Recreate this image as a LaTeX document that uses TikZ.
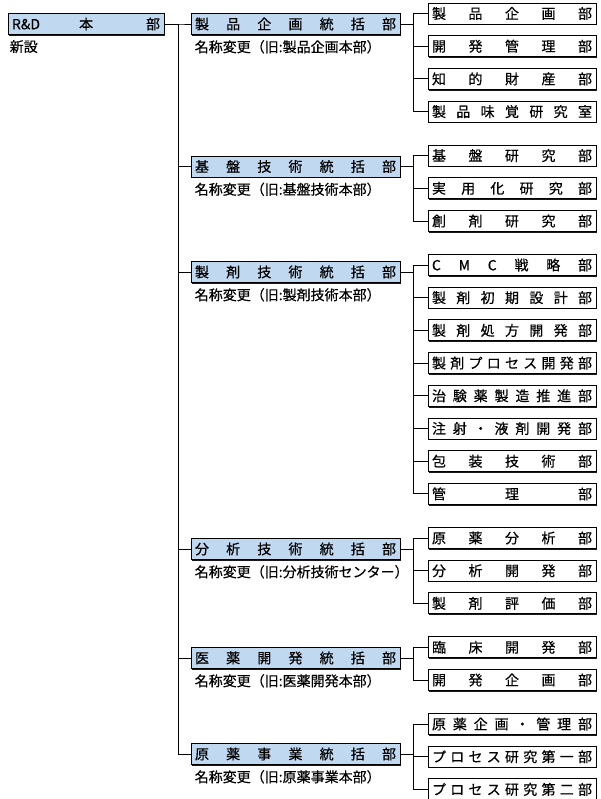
\documentclass[tikz,border=0pt]{standalone}
\usepackage{fontspec}
\setmainfont{Noto Sans CJK JP}[FakeBold=0.5]
\usetikzlibrary{positioning, shadows}
\definecolor{headblue}{RGB}{192,216,240}

% spread the characters of a label over the whole box
\newcommand\sprtext[1]{\hbox to\linewidth{\sprfirst#1\relax}}
\def\sprfirst#1{#1\sprrest}
\def\sprrest#1{\ifx\relax#1\else\hfil#1\expandafter\sprrest\fi}

\begin{document}
\begin{tikzpicture}[
                    x=1pt, y=-1pt,
                    node distance=32.7pt,
                    unitbox/.style={rectangle, draw, line width=0.9pt, inner xsep=4pt, inner ysep=0pt, minimum height=21pt, font=\fontsize{14}{16}\selectfont, drop shadow={shadow xshift=1.2pt, shadow yshift=-1.2pt, fill=black, opacity=0.9}},
                    rootbox/.style={unitbox, fill=headblue, text width=148pt},
                    headbox/.style={unitbox, fill=headblue, text width=201pt},
                    deptbox/.style={unitbox, fill=white, text width=160pt},
                    note/.style={inner sep=0pt, anchor=north west, font=\fontsize{14}{16}\selectfont},
                    link/.style={draw, line width=0.9pt}
                ]
                    \useasboundingbox (0,0) rectangle (600,799);

                    \node [rootbox] (rd) at (86,24) {\hbox to\linewidth{R\&D\hskip 0pt plus 0.85fil 本\hskip 0pt plus 1.15fil 部}};
                    \node [note, below right=5pt and 2pt of rd.south west] (rdnote) {新設};

                    % Divisions
                    \node [headbox] (plan) at (295.5,24) {\sprtext{製品企画統括部}};
                    \node [headbox] (base) at (295.5,166.5) {\sprtext{基盤技術統括部}};
                    \node [headbox] (form) at (295.5,272) {\sprtext{製剤技術統括部}};
                    \node [headbox] (anal) at (295.5,549) {\sprtext{分析技術統括部}};
                    \node [headbox] (clin) at (295.5,658) {\sprtext{医薬開発統括部}};
                    \node [headbox] (api) at (295.5,754) {\sprtext{原薬事業統括部}};

                    \node [note, below right=5pt and 4pt of plan.south west] (plannote) {名称変更（旧:製品企画本部）};
                    \node [note, below right=5pt and 4pt of base.south west] (basenote) {名称変更（旧:基盤技術本部）};
                    \node [note, below right=5pt and 4pt of form.south west] (formnote) {名称変更（旧:製剤技術本部）};
                    \node [note, below right=5pt and 4pt of anal.south west] (analnote) {名称変更（旧:分析技術センター）};
                    \node [note, below right=5pt and 4pt of clin.south west] (clinnote) {名称変更（旧:医薬開発本部）};
                    \node [note, below right=5pt and 4pt of api.south west] (apinote) {名称変更（旧:原薬事業本部）};

                    % Departments
                    \node [deptbox] (plan1) at (512,13.5) {\sprtext{製品企画部}};
                    \node [deptbox, below of=plan1] (plan2) {\sprtext{開発管理部}};
                    \node [deptbox, below of=plan2] (plan3) {\sprtext{知的財産部}};
                    \node [deptbox, below of=plan3] (plan4) {\sprtext{製品味覚研究室}};

                    \node [deptbox] (base1) at (512,155.6) {\sprtext{基盤研究部}};
                    \node [deptbox, below of=base1] (base2) {\sprtext{実用化研究部}};
                    \node [deptbox, below of=base2] (base3) {\sprtext{創剤研究部}};

                    \node [deptbox] (form1) at (512,265) {\sprtext{CMC戦略部}};
                    \node [deptbox, below of=form1] (form2) {\sprtext{製剤初期設計部}};
                    \node [deptbox, below of=form2] (form3) {\sprtext{製剤処方開発部}};
                    \node [deptbox, below of=form3] (form4) {\sprtext{製剤プロセス開発部}};
                    \node [deptbox, below of=form4] (form5) {\sprtext{治験薬製造推進部}};
                    \node [deptbox, below of=form5] (form6) {\sprtext{注射・液剤開発部}};
                    \node [deptbox, below of=form6] (form7) {\sprtext{包装技術部}};
                    \node [deptbox, below of=form7] (form8) {\sprtext{管理部}};

                    \node [deptbox] (anal1) at (512,538) {\sprtext{原薬分析部}};
                    \node [deptbox, below of=anal1] (anal2) {\sprtext{分析開発部}};
                    \node [deptbox, below of=anal2] (anal3) {\sprtext{製剤評価部}};

                    \node [deptbox] (clin1) at (512,647.3) {\sprtext{臨床開発部}};
                    \node [deptbox, below of=clin1] (clin2) {\sprtext{開発企画部}};

                    \node [deptbox] (api1) at (512,724) {\sprtext{原薬企画・管理部}};
                    \node [deptbox, below of=api1] (api2) {\sprtext{プロセス研究第一部}};
                    \node [deptbox, below of=api2] (api3) {\sprtext{プロセス研究第二部}};

                    % Edges from R&D
                    \path [link] (rd.east) -- ++(14,0) |- (plan.west);
                    \path [link] (rd.east) -- ++(14,0) |- (base.west);
                    \path [link] (rd.east) -- ++(14,0) |- (form.west);
                    \path [link] (rd.east) -- ++(14,0) |- (anal.west);
                    \path [link] (rd.east) -- ++(14,0) |- (clin.west);
                    \path [link] (rd.east) -- ++(14,0) |- (api.west);

                    % Edges from divisions
                    \path [link] (plan1.west) -- ++(-14,0) |- (plan.east);
                    \path [link] (plan2.west) -- ++(-14,0) |- (plan.east);
                    \path [link] (plan3.west) -- ++(-14,0) |- (plan.east);
                    \path [link] (plan4.west) -- ++(-14,0) |- (plan.east);

                    \path [link] (base1.west) -- ++(-14,0) |- (base.east);
                    \path [link] (base2.west) -- ++(-14,0) |- (base.east);
                    \path [link] (base3.west) -- ++(-14,0) |- (base.east);

                    \path [link] (form1.west) -- ++(-14,0) |- (form.east);
                    \path [link] (form2.west) -- ++(-14,0) |- (form.east);
                    \path [link] (form3.west) -- ++(-14,0) |- (form.east);
                    \path [link] (form4.west) -- ++(-14,0) |- (form.east);
                    \path [link] (form5.west) -- ++(-14,0) |- (form.east);
                    \path [link] (form6.west) -- ++(-14,0) |- (form.east);
                    \path [link] (form7.west) -- ++(-14,0) |- (form.east);
                    \path [link] (form8.west) -- ++(-14,0) |- (form.east);

                    \path [link] (anal1.west) -- ++(-14,0) |- (anal.east);
                    \path [link] (anal2.west) -- ++(-14,0) |- (anal.east);
                    \path [link] (anal3.west) -- ++(-14,0) |- (anal.east);

                    \path [link] (clin1.west) -- ++(-14,0) |- (clin.east);
                    \path [link] (clin2.west) -- ++(-14,0) |- (clin.east);

                    \path [link] (api1.west) -- ++(-14,0) |- (api.east);
                    \path [link] (api2.west) -- ++(-14,0) |- (api.east);
                    \path [link] (api3.west) -- ++(-14,0) |- (api.east);
                \end{tikzpicture}
\end{document}
